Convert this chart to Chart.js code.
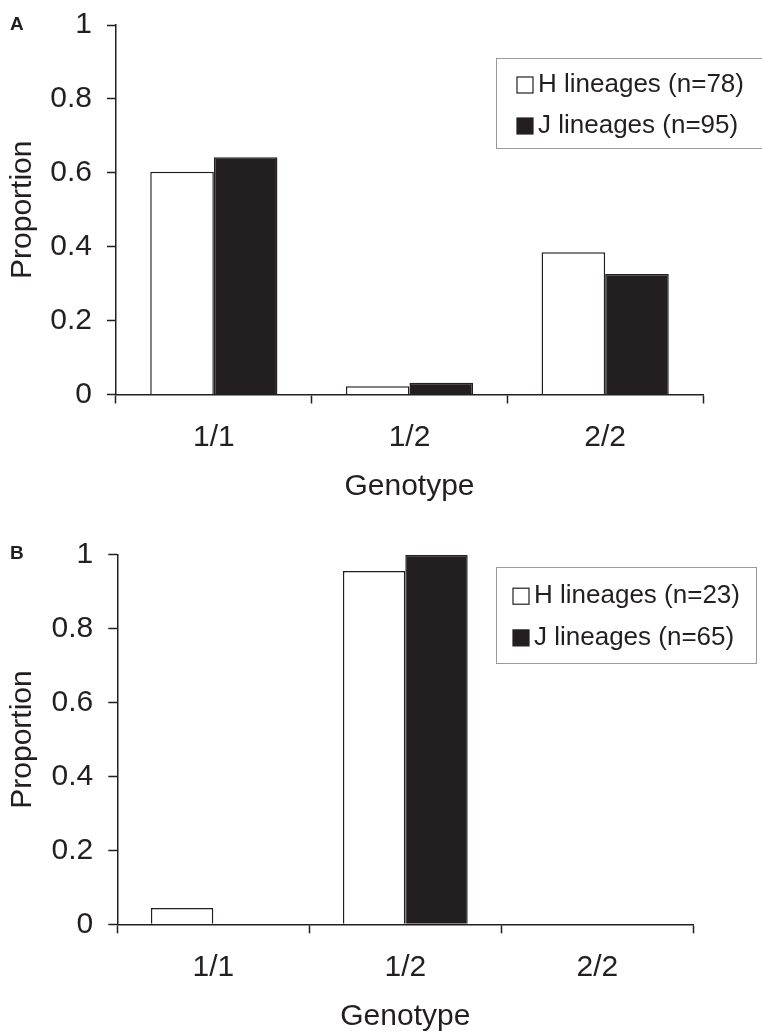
<!DOCTYPE html>
<html>
<head>
<meta charset="utf-8">
<script src="https://cdn.jsdelivr.net/npm/chart.js@4.4.1/dist/chart.umd.min.js"></script>
<style>
  html, body { margin: 0; padding: 0; background: #fff; overflow: hidden; }
  #wrap { position: relative; width: 762px; height: 1032px; overflow: hidden; }
  .panel { position: absolute; left: 0; }
  #panelA { top: 0; }
  #panelB { top: 516px; }
  .tag { position: absolute; left: 10px; font: bold 19px/19px "Liberation Sans", Arial, sans-serif; color: #231f20; }
</style>
</head>
<body>
<div id="wrap">
  <div class="panel" id="panelA"><canvas id="chartA" width="762" height="516"></canvas></div>
  <div class="panel" id="panelB"><canvas id="chartB" width="762" height="540"></canvas></div>
  <div class="tag" style="top:14px">A</div>
  <div class="tag" style="top:543px">B</div>
</div>
<script>
const categories = ['1/1', '1/2', '2/2'];
const yTicks = [0, 0.2, 0.4, 0.6, 0.8, 1];

// panel A
const hLineagesA = [0.603, 0.022, 0.385];
const jLineagesA = [0.642, 0.032, 0.326];
const legendA = ['H lineages (n=78)', 'J lineages (n=95)'];

// panel B
const hLineagesB = [0.044, 0.956, 0];
const jLineagesB = [0, 1, 0];
const legendB = ['H lineages (n=23)', 'J lineages (n=65)'];

const ink = '#231f20';
const family = '"Liberation Sans", Arial, sans-serif';

// framed legend drawn on top of the plot
const boxLegend = {
  id: 'boxLegend',
  afterDraw(chart, args, opts) {
    const ctx = chart.ctx;
    ctx.save();
    ctx.fillStyle = '#fff';
    ctx.fillRect(opts.x, opts.y, opts.w, opts.h);
    ctx.strokeStyle = '#9a9a9a';
    ctx.lineWidth = 1;
    ctx.strokeRect(opts.x + 0.5, opts.y + 0.5, opts.w, opts.h);
    ctx.font = `26px ${family}`;
    ctx.textBaseline = 'middle';
    chart.data.datasets.forEach((ds, i) => {
      const cy = opts.rows[i];
      ctx.fillStyle = ds.backgroundColor;
      ctx.fillRect(opts.boxX, cy - 8, 16, 16);
      ctx.strokeStyle = ink;
      ctx.lineWidth = 1.2;
      ctx.strokeRect(opts.boxX, cy - 8, 16, 16);
      ctx.fillStyle = ink;
      ctx.fillText(ds.label, opts.textX, cy);
    });
    ctx.restore();
  }
};

function makeChart(id, hVals, jVals, labels, geom, legendPos) {
  const ctx = document.getElementById(id).getContext('2d');
  return new Chart(ctx, {
    type: 'bar',
    data: {
      labels: categories,
      datasets: [
        { label: labels[0], data: hVals, backgroundColor: '#ffffff', borderColor: ink, borderWidth: 1.5,
          categoryPercentage: 0.65, barPercentage: 1 },
        { label: labels[1], data: jVals, backgroundColor: ink, borderColor: ink, borderWidth: 1.5,
          categoryPercentage: 0.65, barPercentage: 1 }
      ]
    },
    options: {
      responsive: false,
      animation: false,
      layout: { padding: { top: geom.top, right: geom.right, bottom: 0, left: 0 } },
      plugins: {
        legend: { display: false },
        tooltip: { enabled: false },
        boxLegend: legendPos
      },
      scales: {
        x: {
          offset: true,
          grid: { offset: true, drawOnChartArea: false, tickLength: 9, tickWidth: 1.5, tickColor: ink },
          border: { color: ink, width: 1.5 },
          ticks: { color: ink, font: { size: 30, family }, padding: 16.5, maxRotation: 0 },
          title: { display: true, text: 'Genotype', color: ink, font: { size: 30, family },
                   padding: { top: 0, bottom: geom.titlePad } },
          afterFit: s => { s.height = geom.xh; s.paddingLeft = 0; s.paddingRight = 0; }
        },
        y: {
          min: 0,
          max: 1,
          afterBuildTicks: s => { s.ticks = yTicks.map(v => ({ value: v })); },
          grid: { drawOnChartArea: false, tickLength: 9, tickWidth: 1.5, tickColor: ink },
          border: { color: ink, width: 1.5 },
          ticks: { color: ink, font: { size: 30, family }, padding: 15, callback: v => String(v) },
          title: { display: true, text: 'Proportion', color: ink, font: { size: 30, family },
                   padding: { top: 4.5, bottom: 0 } },
          afterFit: s => { s.width = geom.yw; s.paddingTop = 0; s.paddingBottom = 0; }
        }
      }
    },
    plugins: [boxLegend]
  });
}

makeChart('chartA', hLineagesA, jLineagesA, legendA,
  { top: 25, right: 59, yw: 116, xh: 121.5, titlePad: 11 },
  { x: 496, y: 58, w: 300, h: 90, boxX: 517, textX: 538, rows: [85, 126] });

makeChart('chartB', hLineagesB, jLineagesB, legendB,
  { top: 38.7, right: 68.7, yw: 117.3, xh: 131.7, titlePad: 21 },
  { x: 496, y: 51, w: 260, h: 96, boxX: 513, textX: 534, rows: [80.2, 121.9] });
</script>
</body>
</html>
